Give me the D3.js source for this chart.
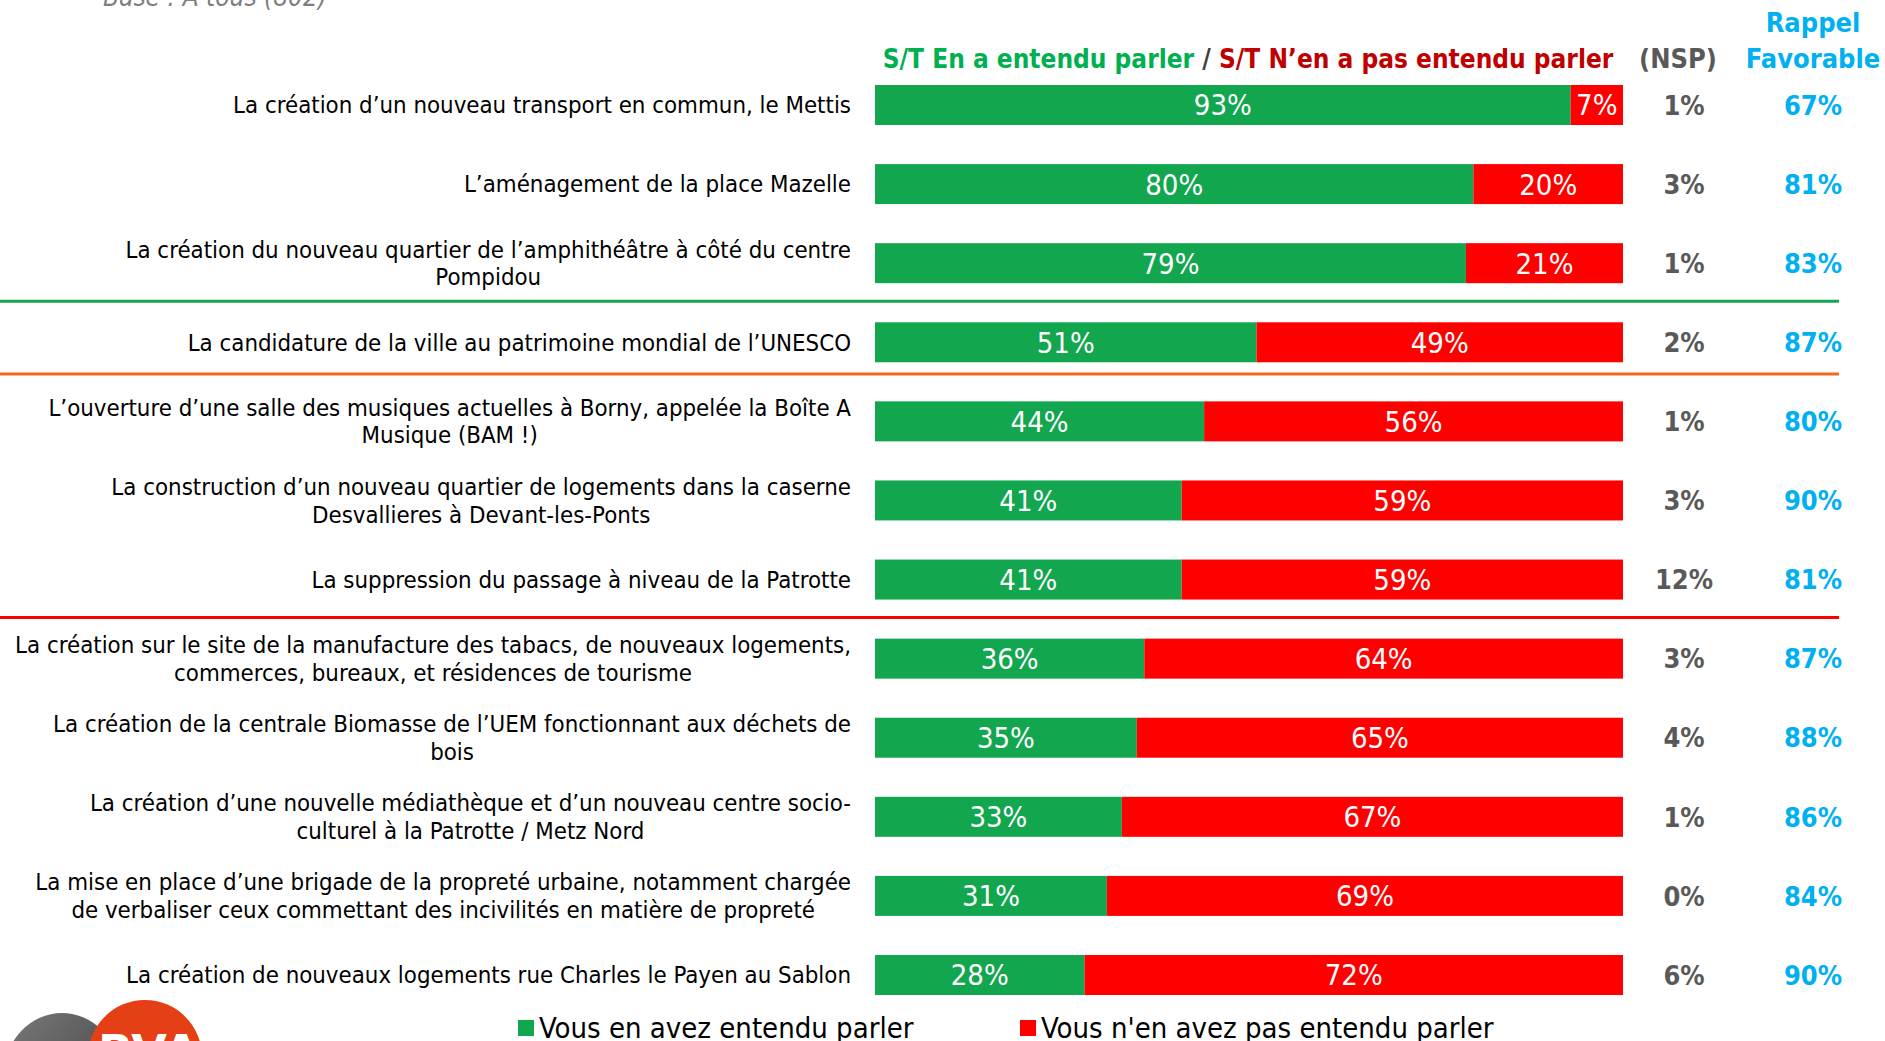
<!DOCTYPE html>
<html>
<head>
<meta charset="utf-8">
<script src="https://cdn.jsdelivr.net/npm/d3@7"></script>
<style>
  body { margin: 0; background: #fff; overflow: hidden; }
</style>
</head>
<body>
<div id="chart"></div>
<script>

// --- data ---
const categories = [
  "La création d\u2019un nouveau transport en commun, le Mettis",
  "L\u2019aménagement de la place Mazelle",
  "La création du nouveau quartier de l\u2019amphithéâtre à côté du centre\nPompidou",
  "La candidature de la ville au patrimoine mondial de l\u2019UNESCO",
  "L\u2019ouverture d\u2019une salle des musiques actuelles à Borny, appelée la Boîte A\nMusique (BAM !)",
  "La construction d\u2019un nouveau quartier de logements dans la caserne\nDesvallieres à Devant-les-Ponts",
  "La suppression du passage à niveau de la Patrotte",
  "La création sur le site de la manufacture des tabacs, de nouveaux logements,\ncommerces, bureaux, et résidences de tourisme",
  "La création de la centrale Biomasse de l\u2019UEM fonctionnant aux déchets de\nbois",
  "La création d\u2019une nouvelle médiathèque et d\u2019un nouveau centre socio-\nculturel à la Patrotte / Metz Nord",
  "La mise en place d\u2019une brigade de la propreté urbaine, notamment chargée\nde verbaliser ceux commettant des incivilités en matière de propreté",
  "La création de nouveaux logements rue Charles le Payen au Sablon"
];
const entendu    = [93, 80, 79, 51, 44, 41, 41, 36, 35, 33, 31, 28];
const pasEntendu = [7, 20, 21, 49, 56, 59, 59, 64, 65, 67, 69, 72];
const nsp        = [1, 3, 1, 2, 1, 3, 12, 3, 4, 1, 0, 6];
const rappel     = [67, 81, 83, 87, 80, 90, 81, 87, 88, 86, 84, 90];
const seriesNames = ["Vous en avez entendu parler", "Vous n'en avez pas entendu parler"];
const separatorsAfter = [2, 3, 6];   // group lines under these rows
const baseText = "Base : A tous (802)";

// --- layout ---
const W = 1885, H = 1041;
const GREEN = "#12A64F", RED = "#FF0000";
const labelFont = "'DejaVu Sans Condensed', 'DejaVu Sans', sans-serif";
const narrowFont = "'Liberation Sans Narrow', 'DejaVu Sans Condensed', sans-serif";

const svg = d3.select("#chart").append("svg")
  .attr("width", W).attr("height", H)
  .style("background", "#fff");

const x = d3.scaleLinear().domain([0, 100]).range([875, 1623]);
const y = d3.scalePoint().domain(d3.range(categories.length)).range([105, 975]);
const step = y.step();
const barH = 40;

// base line at the very top (mostly cut off)
svg.append("text")
  .attr("x", 103).attr("y", 6)
  .attr("font-family", labelFont)
  .attr("font-style", "italic")
  .attr("font-size", 26)
  .attr("fill", "#7f7f7f")
  .text(baseText);

// headers
const head = svg.append("text")
  .attr("x", 1248).attr("y", 68)
  .attr("text-anchor", "middle")
  .attr("font-family", labelFont)
  .attr("font-weight", "bold")
  .attr("font-size", 26);
head.append("tspan").attr("fill", "#00B050").text("S/T En a entendu parler");
head.append("tspan").attr("fill", "#404040").text(" / ");
head.append("tspan").attr("fill", "#C00000").text("S/T N\u2019en a pas entendu parler");

svg.append("text")
  .attr("x", 1678).attr("y", 68)
  .attr("text-anchor", "middle")
  .attr("font-family", labelFont).attr("font-weight", "bold").attr("font-size", 27)
  .attr("fill", "#595959")
  .text("(NSP)");

svg.append("text")
  .attr("x", 1813).attr("y", 32)
  .attr("text-anchor", "middle")
  .attr("font-family", labelFont).attr("font-weight", "bold").attr("font-size", 27)
  .attr("fill", "#00B0F0")
  .text("Rappel");
svg.append("text")
  .attr("x", 1813).attr("y", 68)
  .attr("text-anchor", "middle")
  .attr("font-family", labelFont).attr("font-weight", "bold").attr("font-size", 27)
  .attr("fill", "#00B0F0")
  .text("Favorable");

// separators
const sepColors = ["#12A64F", "#F26A1B", "#FF0000"];
const sepShift = [0.48, 0.40, 0.48];
separatorsAfter.forEach((r, i) => {
  const yy = y(r) + step * sepShift[i];
  svg.append("line")
    .attr("x1", 0).attr("x2", 1839)
    .attr("y1", yy).attr("y2", yy)
    .attr("stroke", sepColors[i])
    .attr("stroke-width", 3);
});

// category labels
const labelRight = 851;
categories.forEach((c, i) => {
  const lines = c.split("\n");
  const g = svg.append("g");
  const texts = lines.map((ln, k) => g.append("text")
    .attr("y", y(i) + (k - (lines.length - 1) / 2) * 27.6)
    .attr("dy", "0.35em")
    .attr("font-family", labelFont)
    .attr("font-size", 23.8)
    .attr("fill", "#000")
    .text(ln));
  const maxW = d3.max(texts, t => t.node().getComputedTextLength());
  texts.forEach(t => t.attr("x", labelRight - maxW / 2).attr("text-anchor", "middle"));
});

// bars
const rows = d3.range(categories.length);
svg.append("g").selectAll("rect").data(rows).join("rect")
  .attr("x", x(0))
  .attr("y", i => y(i) - barH / 2)
  .attr("width", i => x(entendu[i]) - x(0))
  .attr("height", barH)
  .attr("fill", GREEN);

svg.append("g").selectAll("rect").data(rows).join("rect")
  .attr("x", i => x(entendu[i]))
  .attr("y", i => y(i) - barH / 2)
  .attr("width", i => x(entendu[i] + pasEntendu[i]) - x(entendu[i]))
  .attr("height", barH)
  .attr("fill", RED);

// bar value labels
svg.append("g").selectAll("text").data(rows).join("text")
  .attr("x", i => (x(0) + x(entendu[i])) / 2)
  .attr("y", i => y(i))
  .attr("dy", "0.36em")
  .attr("text-anchor", "middle")
  .attr("font-family", narrowFont)
  .attr("font-size", 29)
  .attr("fill", "#fff")
  .text(i => entendu[i] + "%");

svg.append("g").selectAll("text").data(rows).join("text")
  .attr("x", i => (x(entendu[i]) + x(entendu[i] + pasEntendu[i])) / 2)
  .attr("y", i => y(i))
  .attr("dy", "0.36em")
  .attr("text-anchor", "middle")
  .attr("font-family", narrowFont)
  .attr("font-size", 29)
  .attr("fill", "#fff")
  .text(i => pasEntendu[i] + "%");

// NSP column
svg.append("g").selectAll("text").data(rows).join("text")
  .attr("x", 1684)
  .attr("y", i => y(i))
  .attr("dy", "0.36em")
  .attr("text-anchor", "middle")
  .attr("font-family", labelFont)
  .attr("font-weight", "bold")
  .attr("font-size", 27)
  .attr("fill", "#595959")
  .text(i => nsp[i] + "%");

// Rappel favorable column
svg.append("g").selectAll("text").data(rows).join("text")
  .attr("x", 1813)
  .attr("y", i => y(i))
  .attr("dy", "0.36em")
  .attr("text-anchor", "middle")
  .attr("font-family", labelFont)
  .attr("font-weight", "bold")
  .attr("font-size", 27)
  .attr("fill", "#00B0F0")
  .text(i => rappel[i] + "%");

// legend
const legX = [518, 1020];
const legColors = [GREEN, RED];
seriesNames.forEach((s, i) => {
  svg.append("rect")
    .attr("x", legX[i]).attr("y", 1020)
    .attr("width", 16).attr("height", 16)
    .attr("fill", legColors[i]);
  svg.append("text")
    .attr("x", legX[i] + 21).attr("y", 1038)
    .attr("font-family", narrowFont)
    .attr("font-size", 29)
    .attr("fill", "#000")
    .text(s);
});

// logo bottom-left (cut off by the frame)
const defs = svg.append("defs");
const grad = defs.append("linearGradient").attr("id", "grey")
  .attr("x1", "0").attr("y1", "0").attr("x2", "1").attr("y2", "1");
grad.append("stop").attr("offset", "0%").attr("stop-color", "#7a7a7a");
grad.append("stop").attr("offset", "100%").attr("stop-color", "#3c3c3c");
svg.append("ellipse")
  .attr("cx", 62).attr("cy", 1075).attr("rx", 58).attr("ry", 62)
  .attr("fill", "url(#grey)");
svg.append("circle")
  .attr("cx", 145).attr("cy", 1057).attr("r", 57)
  .attr("fill", "#E53F16");
svg.append("text")
  .attr("x", 98).attr("y", 1068)
  .attr("font-family", "'DejaVu Sans', sans-serif")
  .attr("font-weight", "bold")
  .attr("font-size", 46)
  .attr("fill", "#fff")
  .text("BVA");

</script>
</body>
</html>
